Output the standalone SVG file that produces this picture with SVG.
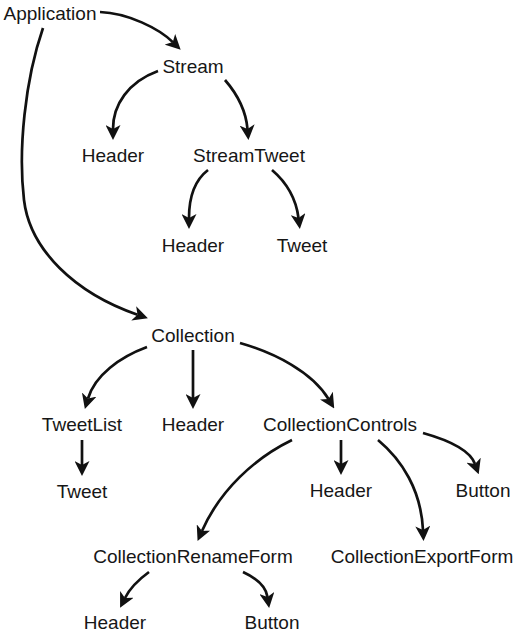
<svg xmlns="http://www.w3.org/2000/svg" width="523" height="644" viewBox="0 0 523 644">
<style>
text{font-family:"Liberation Sans",Arial,Helvetica,sans-serif;font-size:19px;fill:#161616;text-anchor:middle}
.e{fill:none;stroke:#111;stroke-width:2.7;marker-end:url(#ah)}
</style>
<defs>
<marker id="ah" markerUnits="userSpaceOnUse" markerWidth="15" markerHeight="15" refX="4" refY="7.5" orient="auto" viewBox="0 0 15 15">
<path d="M0,0 L15,7.5 L0,15 L4,7.5 z" fill="#111"/>
</marker>
</defs>
<rect width="523" height="644" fill="#fff"/>
<g id="connectors">
<path class="e" d="M100,12 C128,13 159,28.6 172.8,42.1"/>
<path class="e" d="M43,28 C25,80 18,150 24,200 S75,293 137.5,314.7"/>
<path class="e" d="M158,71 C128,82 113,105 113,129"/>
<path class="e" d="M225,80 C238,95 246,112 247.5,129"/>
<path class="e" d="M208,170 C195,180 189,195 189,218"/>
<path class="e" d="M272,170 C286,182 296,198 298.5,218"/>
<path class="e" d="M147,347 C120,357 95,375 88,398.5"/>
<path class="e" d="M193,350 L193,398"/>
<path class="e" d="M240,343 C275,353 312,372 328.5,399"/>
<path class="e" d="M82,440 L82,465"/>
<path class="e" d="M292,440 C255,458 220,490 202,531"/>
<path class="e" d="M341,440 L341,464"/>
<path class="e" d="M378,440 C402,460 421,490 423,530"/>
<path class="e" d="M423,433 C448,440 470,450 475,464"/>
<path class="e" d="M149,572 C138,580 130,588 125,598"/>
<path class="e" d="M243,572 C256,578 266,587 267.5,597"/>
</g>
<g id="n-application"><text x="50" y="20">Application</text></g>
<g id="n-stream"><text x="193" y="73">Stream</text></g>
<g id="n-header1"><text x="113" y="162">Header</text></g>
<g id="n-streamtweet"><text x="249" y="162">StreamTweet</text></g>
<g id="n-header2"><text x="193" y="252">Header</text></g>
<g id="n-tweet1"><text x="302" y="252">Tweet</text></g>
<g id="n-collection"><text x="193" y="342">Collection</text></g>
<g id="n-tweetlist"><text x="82" y="431">TweetList</text></g>
<g id="n-header3"><text x="193" y="431">Header</text></g>
<g id="n-collectioncontrols"><text x="340" y="431">CollectionControls</text></g>
<g id="n-tweet2"><text x="82" y="498">Tweet</text></g>
<g id="n-header4"><text x="341" y="497">Header</text></g>
<g id="n-button1"><text x="483" y="497">Button</text></g>
<g id="n-collectionrenameform"><text x="193" y="563">CollectionRenameForm</text></g>
<g id="n-collectionexportform"><text x="422" y="563">CollectionExportForm</text></g>
<g id="n-header5"><text x="115" y="629">Header</text></g>
<g id="n-button2"><text x="272" y="629">Button</text></g>
</svg>
